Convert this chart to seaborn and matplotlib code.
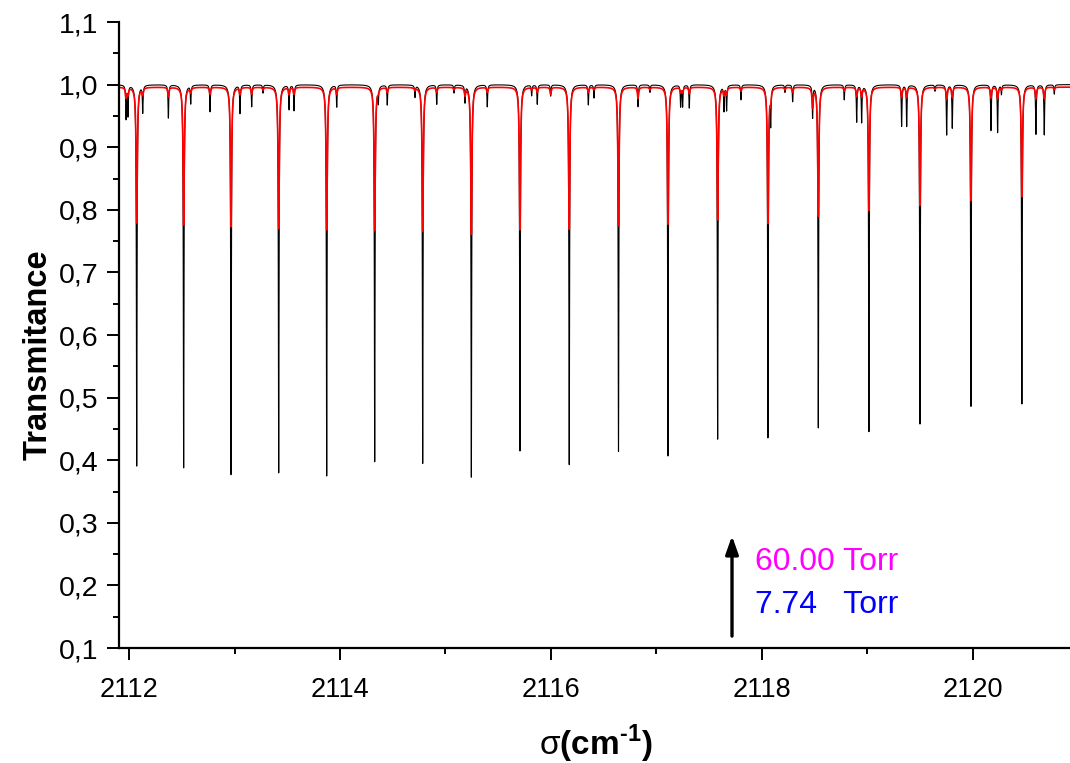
import numpy as np
import pandas as pd
import matplotlib
matplotlib.use("Agg")
import matplotlib.pyplot as plt
from matplotlib.ticker import MultipleLocator, FuncFormatter
import seaborn as sns

# ---------------------------------------------------------------
# Line lists (centre in cm-1, minimum transmittance)
# black = 7.74 Torr, red = 60.00 Torr
# ---------------------------------------------------------------
main_pos = [2112.073, 2112.518, 2112.967, 2113.419, 2113.874, 2114.329, 2114.784,
            2115.245, 2115.706, 2116.173, 2116.640, 2117.109, 2117.580, 2118.057,
            2118.534, 2119.014, 2119.498, 2119.981, 2120.464]
main_t_low = [0.391, 0.388, 0.377, 0.380, 0.375, 0.398, 0.395, 0.373, 0.415, 0.393,
              0.414, 0.407, 0.434, 0.437, 0.452, 0.446, 0.458, 0.486, 0.490]
main_t_high = [0.779, 0.776, 0.773, 0.770, 0.768, 0.767, 0.766, 0.761, 0.768, 0.769,
               0.775, 0.777, 0.784, 0.779, 0.790, 0.799, 0.807, 0.815, 0.821]

weak_pos = [2111.972, 2111.990, 2112.130, 2112.373, 2112.585, 2112.768, 2113.052,
            2113.163, 2113.270, 2113.517, 2113.564, 2113.969, 2114.363, 2114.448,
            2114.711, 2114.917, 2115.081, 2115.185, 2115.396, 2115.817, 2115.870,
            2115.997, 2116.354, 2116.408, 2116.825, 2116.938, 2117.229, 2117.248,
            2117.311, 2117.640, 2117.665, 2117.801, 2118.083, 2118.218, 2118.291,
            2118.480, 2118.780, 2118.898, 2118.945, 2119.324, 2119.372, 2119.640,
            2119.751, 2119.804, 2120.171, 2120.234, 2120.270, 2120.597, 2120.676,
            2120.771]
weak_t_low = [0.947, 0.952, 0.957, 0.947, 0.971, 0.957, 0.955, 0.965, 0.987, 0.961,
              0.959, 0.965, 0.976, 0.968, 0.981, 0.969, 0.987, 0.973, 0.965, 0.983,
              0.969, 0.982, 0.968, 0.979, 0.965, 0.988, 0.966, 0.966, 0.963, 0.960,
              0.960, 0.976, 0.944, 0.988, 0.973, 0.949, 0.976, 0.941, 0.941, 0.934,
              0.934, 0.990, 0.920, 0.931, 0.927, 0.924, 0.985, 0.921, 0.920, 0.985]
weak_t_high = [0.980, 0.985, 0.985, 0.981, 0.988, 0.985, 0.985, 0.985, 0.992, 0.985,
               0.985, 0.985, 0.992, 0.988, 0.992, 0.988, 0.992, 0.984, 0.988, 0.992,
               0.988, 0.985, 0.988, 0.992, 0.978, 0.992, 0.988, 0.988, 0.986, 0.985,
               0.985, 0.990, 0.980, 0.992, 0.988, 0.965, 0.990, 0.982, 0.982, 0.980,
               0.980, 0.993, 0.977, 0.980, 0.979, 0.978, 0.992, 0.978, 0.978, 0.992]

base_low, base_high = 1.000, 0.996
width_low, width_high = 0.004, 0.0065     # Lorentz half widths (cm-1)

x_min, x_max = 2111.905, 2120.92
y_ticks = np.arange(0.1, 1.11, 0.1)


def spectrum(grid, centres, t_min, base, hw):
    """transmittance built from Lorentz dips at the given centres"""
    out = np.full_like(grid, base)
    for c, t in zip(centres, t_min):
        out -= (base - t) / (1.0 + ((grid - c) / hw) ** 2)
    return out


centres = np.array(main_pos + weak_pos)
sigma = np.union1d(np.arange(x_min, x_max, 0.0004), centres)

df_low = pd.DataFrame({"sigma": sigma,
                       "T": spectrum(sigma, centres, main_t_low + weak_t_low,
                                     base_low, width_low)})
df_high = pd.DataFrame({"sigma": sigma,
                        "T": spectrum(sigma, centres, main_t_high + weak_t_high,
                                      base_high, width_high)})

# ---------------------------------------------------------------
# Plot
# ---------------------------------------------------------------
sns.set_theme(style="ticks")
plt.rcParams["font.family"] = ["Liberation Sans", "DejaVu Sans"]
plt.rcParams["mathtext.fontset"] = "custom"
plt.rcParams["mathtext.rm"] = "Liberation Sans"
plt.rcParams["mathtext.bf"] = "Liberation Sans:bold"
plt.rcParams["path.simplify"] = False
plt.rcParams["xtick.color"] = "black"
plt.rcParams["ytick.color"] = "black"
plt.rcParams["axes.labelcolor"] = "black"

fig = plt.figure(figsize=(10.7, 7.63), dpi=100)
ax = fig.add_axes([119 / 1070, 1 - 648 / 763, 1 - 119 / 1070, (648 - 22) / 763])

sns.lineplot(data=df_low, x="sigma", y="T", color="black", linewidth=0.8,
             estimator=None, sort=False, ax=ax)
sns.lineplot(data=df_high, x="sigma", y="T", color="red", linewidth=1.2,
             estimator=None, sort=False, ax=ax)

ax.set_xlim(x_min, x_max)
ax.set_ylim(0.1, 1.1)
ax.set_yticks(y_ticks)
ax.xaxis.set_major_locator(MultipleLocator(2))
ax.xaxis.set_minor_locator(MultipleLocator(1))
ax.yaxis.set_minor_locator(MultipleLocator(0.05))
ax.yaxis.set_major_formatter(FuncFormatter(lambda v, p: f"{v:.1f}".replace(".", ",")))

for side in ["top", "right"]:
    ax.spines[side].set_visible(False)
for side in ["left", "bottom"]:
    ax.spines[side].set_linewidth(1.6)
    ax.spines[side].set_color("black")

ax.tick_params(axis="both", which="major", length=8.6, width=1.4, color="black",
               labelcolor="black")
ax.tick_params(axis="both", which="minor", length=4.3, width=1.4, color="black")
ax.tick_params(axis="y", which="major", labelsize=20.5, pad=6)
ax.tick_params(axis="x", which="major", labelsize=19.5, pad=12)

# sigma in regular weight, short hyphen in the exponent as in the original
ax.set_xlabel(r"$\mathrm{\sigma}$(cm$^{\mathbf{‐1}}$)", fontsize=24,
              fontweight="bold", va="center")
ax.xaxis.set_label_coords(0.5016, -0.153)
ax.set_ylabel("Transmitance", fontsize=23.5, fontweight="bold", va="center")
ax.yaxis.set_label_coords(-0.085, 0.468)

# pressure annotation
arrow_x = 2117.716
ax.annotate("", xy=(arrow_x, 0.279), xytext=(arrow_x, 0.119),
            arrowprops=dict(arrowstyle="-|>,head_length=0.9,head_width=0.32",
                            color="black", lw=2.4, shrinkA=0, shrinkB=0))
ax.text(2117.934, 0.2247, "60.00 Torr", color="#ff00ff", fontsize=23, va="baseline")
ax.text(2117.934, 0.1560, "7.74   Torr", color="#0000ff", fontsize=23, va="baseline")

fig.savefig("out.png", dpi=100)
